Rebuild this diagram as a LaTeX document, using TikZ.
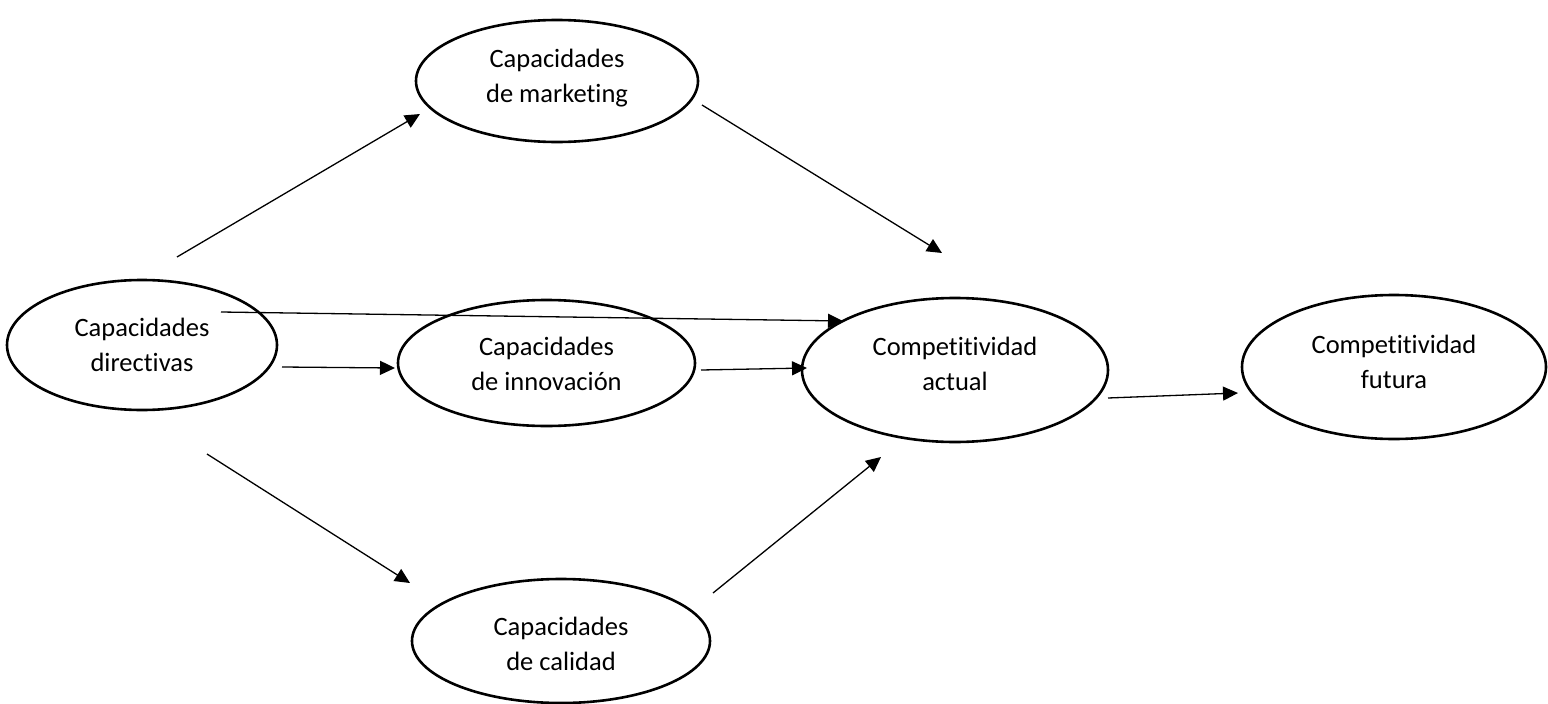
\documentclass[tikz,border=0pt]{standalone}
\usepackage{fontspec}
\setmainfont{Carlito}[Ligatures=NoCommon]
\usetikzlibrary{arrows.meta,shapes.geometric}
\tikzset{
  construct/.style={ellipse, draw=black, line width=2.6pt, fill=white, inner sep=0pt},
  caption/.style={align=center, anchor=base, inner sep=0pt, font=\fontsize{26.5}{35}\selectfont},
  link/.style={line width=1.3pt, -{Triangle[length=15pt,width=14pt]}}
}
\begin{document}
\begin{tikzpicture}[x=1pt,y=-1pt]
\useasboundingbox (0,0) rectangle (1548,704);

% constructs
\node[construct, minimum width=282pt, minimum height=122pt] (mkt) at (557,81) {};
\node[construct, minimum width=270pt, minimum height=130pt] (dir) at (142,345) {};
\node[construct, minimum width=297pt, minimum height=126pt] (inn) at (546.5,363) {};
\node[construct, minimum width=306pt, minimum height=144pt] (act) at (955,370) {};
\node[construct, minimum width=304pt, minimum height=144pt] (fut) at (1394,367) {};
\node[construct, minimum width=298pt, minimum height=124pt] (cal) at (561,641) {};

% captions (anchored on the baseline of the second line)
\node[caption] (tmkt) at (557,102) {Capacidades\\de marketing};
\node[caption] (tdir) at (142,371) {Capacidades\\directivas};
\node[caption] (tinn) at (546.5,390) {Capacidades\\de innovación};
\node[caption] (tact) at (955,390) {Competitividad\\actual};
\node[caption] (tfut) at (1394,388) {Competitividad\\futura};
\node[caption] (tcal) at (561,670) {Capacidades\\de calidad};

% free ends of the paths
\coordinate (dirA) at (177,257);  \coordinate (mktIn) at (420,114);
\coordinate (mktOut) at (702,105); \coordinate (actA) at (942,253);
\coordinate (dirB) at (221,312);  \coordinate (actB) at (843,321);
\coordinate (dirC) at (282,367);  \coordinate (innIn) at (395,368);
\coordinate (innOut) at (701,370); \coordinate (actC) at (807,368);
\coordinate (dirD) at (207,454);  \coordinate (calIn) at (410,583);
\coordinate (calOut) at (713,593); \coordinate (actD) at (881,457);
\coordinate (actOut) at (1108,398); \coordinate (futIn) at (1238,393);

% paths
\draw[link] (dirA) -- (mktIn);
\draw[link] (mktOut) -- (actA);
\draw[link] (dirB) -- (actB);
\draw[link] (dirC) -- (innIn);
\draw[link] (innOut) -- (actC);
\draw[link] (dirD) -- (calIn);
\draw[link] (calOut) -- (actD);
\draw[link] (actOut) -- (futIn);
\end{tikzpicture}
\end{document}
